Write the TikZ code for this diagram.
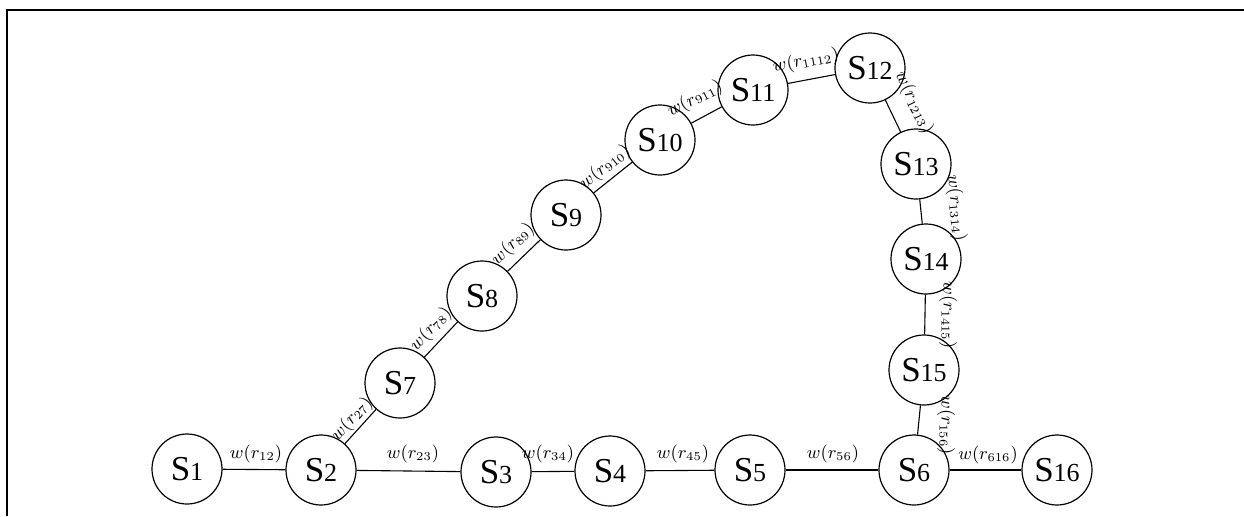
\documentclass[tikz,border=0pt]{standalone}
\usepackage{fontspec}
\setmainfont{Liberation Serif}
\newcommand{\SN}[1]{{\fontsize{17.5}{18}\selectfont S}{\fontsize{13}{14}\selectfont #1}}
\begin{document}
\begin{tikzpicture}[x=0.5pt,y=-0.5pt,
  st/.style={circle, draw, line width=0.6pt, minimum size=35pt, inner sep=0pt},
  lab/.style={font=\fontsize{9}{10}\selectfont, inner sep=0pt},
  con/.style={line width=0.55pt}]
\useasboundingbox (0,0) rectangle (1244,516);
\draw[line width=1pt] (7,516) -- (7,10) -- (1244,10);
% nodes
\node[st] (s1) at (187,469) {\SN{1}};
\node[st] (s2) at (321,470) {\SN{2}};
\node[st] (s3) at (496,472) {\SN{3}};
\node[st] (s4) at (610,471) {\SN{4}};
\node[st] (s5) at (750,470) {\SN{5}};
\node[st] (s6) at (914,470) {\SN{6}};
\node[st] (s16) at (1057,470) {\SN{16}};
\node[st] (s7) at (400,383) {\SN{7}};
\node[st] (s8) at (482,296) {\SN{8}};
\node[st] (s9) at (566,215) {\SN{9}};
\node[st] (s10) at (660,140) {\SN{10}};
\node[st] (s11) at (753,90) {\SN{11}};
\node[st] (s12) at (870,68) {\SN{12}};
\node[st] (s13) at (916,164) {\SN{13}};
\node[st] (s14) at (926,259) {\SN{14}};
\node[st] (s15) at (924,370) {\SN{15}};
% connectors
\draw[con] (s1) -- (s2);
\draw[con] (s2) -- (s3);
\draw[con] (s3) -- (s4);
\draw[con] (s4) -- (s5);
\draw[con] (s5) -- (s6);
\draw[con] (s6) -- (s16);
\draw[con] (s2) -- (s7);
\draw[con] (s7) -- (s8);
\draw[con] (s8) -- (s9);
\draw[con] (s9) -- (s10);
\draw[con] (s10) -- (s11);
\draw[con] (s11) -- (s12);
\draw[con] (s12) -- (s13);
\draw[con] (s13) -- (s14);
\draw[con] (s14) -- (s15);
\draw[con] (s15) -- (s6);
% labels
\node[lab] (l12) at (256,454) {$w(r_{12})$};
\node[lab] (l23) at (413,454) {$w(r_{23})$};
\node[lab] (l34) at (548,454) {$w(r_{34})$};
\node[lab] (l45) at (683,454) {$w(r_{45})$};
\node[lab] (l56) at (833,454) {$w(r_{56})$};
\node[lab] (l616) at (988,455) {$w(r_{616})$};
\node[lab, rotate=47.8] (l27) at (352,419) {$w(r_{27})$};
\node[lab, rotate=46.7] (l78) at (431,329) {$w(r_{78})$};
\node[lab, rotate=44] (l89) at (513,244) {$w(r_{89})$};
\node[lab, rotate=38.6] (l910) at (605,167) {$w(r_{910})$};
\node[lab, rotate=28] (l911) at (695,99) {$w(r_{911})$};
\node[lab, rotate=10.6] (l1112) at (806,61) {$w(r_{1112})$};
\node[lab, rotate=-64] (l1213) at (914,103) {$w(r_{1213})$};
\node[lab, rotate=-84] (l1314) at (956,208) {$w(r_{1314})$};
\node[lab, rotate=-90] (l1415) at (948,315) {$w(r_{1415})$};
\node[lab, rotate=-90] (l156) at (946,425) {$w(r_{156})$};
\end{tikzpicture}
\end{document}
